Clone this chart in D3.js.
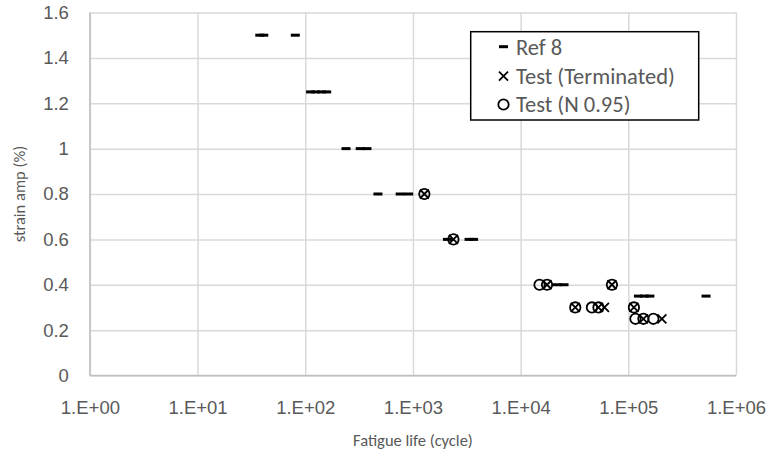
<!DOCTYPE html>
<html><head><meta charset="utf-8">
<script src="https://cdn.jsdelivr.net/npm/d3@7"></script>
<style>
body{margin:0;background:#fff;}
svg{display:block;font-family:Carlito,Calibri,Lato,"Liberation Sans",sans-serif;}
</style></head>
<body><svg id="c" width="770" height="459"></svg>
<script>
// Data (strain amplitude % vs fatigue life cycles)
const ref8Life   = [37.8, 41.2, 80.8, 112, 125, 142, 158, 239, 324, 374, 473, 761, 912, 2090, 3320, 3657, 21770, 25290, 124100, 141000, 158600, 527000];
const ref8Strain = [1.5, 1.5, 1.5, 1.25, 1.25, 1.25, 1.25, 1.0, 1.0, 1.0, 0.8, 0.8, 0.8, 0.6, 0.6, 0.6, 0.4, 0.4, 0.35, 0.35, 0.35, 0.35];
const termLife   = [1276, 2376, 17580, 70450, 32150, 52800, 60000, 112700, 138100, 205000];
const termStrain = [0.8, 0.6, 0.4, 0.4, 0.3, 0.3, 0.3, 0.3, 0.25, 0.25];
const n95Life    = [1276, 2376, 14970, 17580, 70450, 32150, 45920, 52800, 112700, 116400, 138100, 170900];
const n95Strain  = [0.8, 0.6, 0.4, 0.4, 0.4, 0.3, 0.3, 0.3, 0.3, 0.25, 0.25, 0.25];
const xTicks = [1, 10, 100, 1000, 10000, 100000, 1000000];
const xTickLabels = ["1.E+00", "1.E+01", "1.E+02", "1.E+03", "1.E+04", "1.E+05", "1.E+06"];
const yTicks = [0, 0.2, 0.4, 0.6, 0.8, 1.0, 1.2, 1.4, 1.6];
const yTickLabels = ["0", "0.2", "0.4", "0.6", "0.8", "1", "1.2", "1.4", "1.6"];
const legendLabels = ["Ref 8", "Test (Terminated)", "Test (N 0.95)"];

const svg = d3.select("#c");
const L = 89.9, R = 736, T = 12.5, B = 375.5;
const x = d3.scaleLog().domain([1, 1e6]).range([L, R]);
const y = d3.scaleLinear().domain([0, 1.6]).range([B, T]);
const textCol = "#595959", gridCol = "#d9d9d9";

// gridlines
const gx = svg.append("g").attr("transform", `translate(0,${B})`)
  .call(d3.axisBottom(x).tickValues(xTicks).tickSize(-(B - T)).tickFormat(""));
gx.select(".domain").remove();
gx.selectAll("line").attr("stroke", gridCol).attr("stroke-width", 1.5);
const gy = svg.append("g").attr("transform", `translate(${L},0)`)
  .call(d3.axisLeft(y).tickValues(yTicks).tickSize(-(R - L)).tickFormat(""));
gy.select(".domain").remove();
gy.selectAll("line").attr("stroke", gridCol).attr("stroke-width", 1.5);

// axis lines
svg.append("line").attr("x1", L).attr("x2", L).attr("y1", T).attr("y2", B).attr("stroke", "#bfbfbf").attr("stroke-width", 1.5);
svg.append("line").attr("x1", L).attr("x2", R).attr("y1", B).attr("y2", B).attr("stroke", "#bfbfbf").attr("stroke-width", 1.5);

// tick labels via axes
const ax = svg.append("g").attr("transform", `translate(0,${B})`)
  .call(d3.axisBottom(x).tickValues(xTicks).tickSize(0).tickPadding(25)
    .tickFormat((d, i) => xTickLabels[i]));
ax.select(".domain").remove();
ax.selectAll("text").attr("fill", textCol).attr("font-size", 18.5).style("font-family", "inherit");
const ay = svg.append("g").attr("transform", `translate(${L},0)`)
  .call(d3.axisLeft(y).tickValues(yTicks).tickSize(0).tickPadding(21)
    .tickFormat((d, i) => yTickLabels[i]));
ay.select(".domain").remove();
ay.selectAll("text").attr("fill", textCol).attr("font-size", 18.5).style("font-family", "inherit");

// axis titles
svg.append("text").attr("x", (L + R) / 2).attr("y", 446).attr("text-anchor", "middle")
  .attr("fill", textCol).attr("font-size", 16.5).text("Fatigue life (cycle)");
svg.append("text").attr("transform", `translate(25,${(T + B) / 2}) rotate(-90)`).attr("text-anchor", "middle")
  .attr("fill", textCol).attr("font-size", 16.5).text("strain amp (%)");

// markers
const drawDash = (g, cx, cy) => g.append("rect").attr("x", cx - 4.5).attr("y", cy - 1.5).attr("width", 9).attr("height", 3).attr("fill", "#000");
const drawX = (g, cx, cy) => g.append("path").attr("d", `M${cx-4.5},${cy-4.5}L${cx+4.5},${cy+4.5}M${cx-4.5},${cy+4.5}L${cx+4.5},${cy-4.5}`)
  .attr("stroke", "#000").attr("stroke-width", 1.8).attr("fill", "none");
const drawO = (g, cx, cy) => g.append("circle").attr("cx", cx).attr("cy", cy).attr("r", 5.2).attr("stroke", "#000").attr("stroke-width", 1.8).attr("fill", "none");

const gRef = svg.append("g");
ref8Life.forEach((v, i) => drawDash(gRef, x(v), y(ref8Strain[i])));
const gTerm = svg.append("g");
termLife.forEach((v, i) => drawX(gTerm, x(v), y(termStrain[i])));
const gN = svg.append("g");
n95Life.forEach((v, i) => drawO(gN, x(v), y(n95Strain[i])));

// legend
const lg = svg.append("g");
lg.append("rect").attr("x", 470.7).attr("y", 31.7).attr("width", 228).attr("height", 88.3)
  .attr("fill", "#fff").attr("stroke", "#000").attr("stroke-width", 1.5);
const ly = [46.7, 76.2, 104.5];
drawDash(lg, 503.5, ly[0]);
drawX(lg, 503.5, ly[1]);
drawO(lg, 503.5, ly[2]);
legendLabels.forEach((t, i) => lg.append("text").attr("x", 516).attr("y", ly[i]).attr("dy", "0.35em")
  .attr("fill", textCol).attr("font-size", 22.5).text(t));
</script></body></html>
